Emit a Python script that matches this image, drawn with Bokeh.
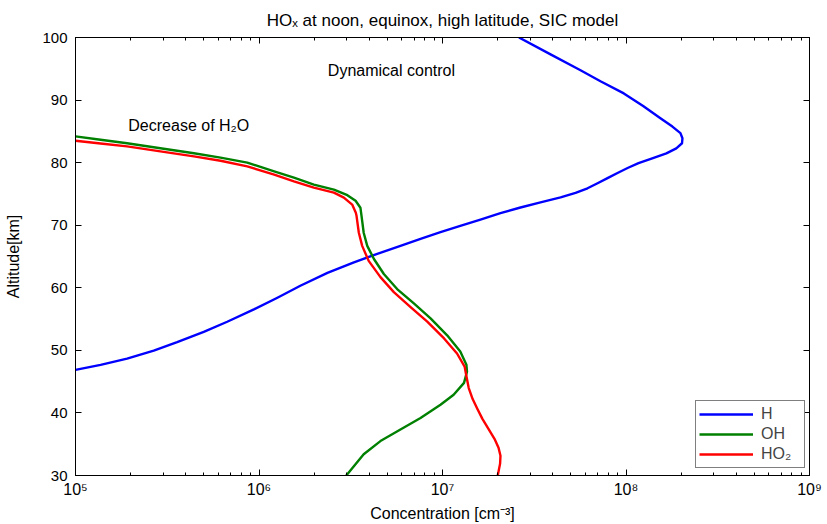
from bokeh.plotting import figure
from bokeh.models import (LogAxis, LinearAxis, FixedTicker, CustomJSTickFormatter,
                          Label, Legend, LegendItem)
from bokeh.embed import file_html
from bokeh.resources import INLINE

# ---- data ----
h_alt = [100.0, 97.3, 94.76, 93.0, 91.06, 89.05, 87.10, 85.76, 84.71, 83.89, 83.10, 82.29,
         81.49, 80.70, 79.92, 79.14, 78.35, 77.52, 76.70, 75.90, 75.16, 74.44, 73.65, 72.83,
         71.92, 70.90, 69.90, 68.89, 67.81, 66.71, 65.43, 64.06, 62.38, 60.32, 58.41, 56.54,
         54.57, 52.95, 51.30, 49.97, 48.68, 47.68, 46.87]
h_conc = [2.61e7, 3.88e7, 5.65e7, 7.26e7, 9.73e7, 1.24e8, 1.54e8, 1.79e8, 1.98e8, 2.03e8,
          2.02e8, 1.88e8, 1.66e8, 1.39e8, 1.17e8, 1.02e8, 8.99e7, 7.93e7, 7.00e7, 6.17e7,
          5.31e7, 4.40e7, 3.42e7, 2.66e7, 2.07e7, 1.61e7, 1.25e7, 9.75e6, 7.59e6, 5.90e6,
          4.41e6, 3.29e6, 2.36e6, 1.68e6, 1.26e6, 9.38e5, 6.71e5, 5.00e5, 3.58e5, 2.67e5,
          1.91e5, 1.37e5, 1.0e5]

oh_alt = [84.2, 83.65, 83.1, 82.3, 81.5, 80.8, 80.0, 78.6, 77.6, 76.5, 75.7, 74.8, 73.9,
          72.8, 71.5, 68.8, 66.7, 64.6, 62.2, 59.8, 57.5, 55.1, 52.4, 49.8, 47.7, 46.6,
          44.8, 42.9, 41.3, 39.2, 37.35, 35.5, 33.4, 30.0]
oh_conc = [1.0e5, 1.37e5, 1.91e5, 2.90e5, 4.42e5, 6.17e5, 8.63e5, 1.21e6, 1.55e6, 1.99e6,
           2.56e6, 3.03e6, 3.36e6, 3.57e6, 3.62e6, 3.72e6, 3.89e6, 4.23e6, 4.79e6, 5.66e6,
           6.98e6, 8.61e6, 1.06e7, 1.25e7, 1.35e7, 1.36e7, 1.31e7, 1.15e7, 9.75e6, 7.59e6,
           5.90e6, 4.59e6, 3.72e6, 2.99e6]

ho2_alt = [83.5, 83.07, 82.6, 81.8, 81.0, 80.3, 79.4, 78.1, 77.0, 76.0, 75.2, 74.4, 73.3,
           72.0, 71.5, 68.8, 66.7, 64.3, 61.7, 59.3, 56.9, 54.6, 51.9, 49.5, 47.41, 45.87,
           43.97, 42.22, 40.63, 39.05, 37.46, 35.87, 34.44, 33.17, 31.90, 30.0]
ho2_conc = [1.0e5, 1.37e5, 1.91e5, 2.90e5, 4.42e5, 6.17e5, 8.63e5, 1.21e6, 1.55e6, 1.99e6,
            2.56e6, 2.90e6, 3.22e6, 3.37e6, 3.40e6, 3.50e6, 3.65e6, 3.96e6, 4.59e6, 5.43e6,
            6.70e6, 8.26e6, 1.02e7, 1.20e7, 1.32e7, 1.35e7, 1.39e7, 1.46e7, 1.55e7, 1.65e7,
            1.78e7, 1.92e7, 2.02e7, 2.07e7, 2.06e7, 2.00e7]

x_major = [1e5, 1e6, 1e7, 1e8, 1e9]
y_major = [30, 40, 50, 60, 70, 80, 90, 100]
series_names = ["H", "OH", "HO\u2082"]
series_colors = ["#0000ff", "#008000", "#ff0000"]

FONT = "Liberation Sans"

x_minor = [m * d for d in x_major[:-1] for m in range(2, 10)]

p = figure(width=827, height=524, x_axis_type="log", x_range=(1e5, 1e9), y_range=(30, 100),
           output_backend="svg", toolbar_location=None,
           min_border_left=75, min_border_right=18, min_border_top=37, min_border_bottom=46)
p.grid.visible = False
p.outline_line_color = "black"
p.outline_line_width = 1
p.background_fill_color = "white"
p.border_fill_color = "white"

p.title.text = "HO\u2093 at noon, equinox, high latitude, SIC model"
p.title.align = "center"
p.title.vertical_align = "middle"
p.title.text_font = FONT
p.title.text_font_size = "17px"
p.title.text_font_style = "normal"
p.title.text_color = "black"
p.title.standoff = 13

sup_code = """
const sup = {'0':'\u2070','1':'\u00b9','2':'\u00b2','3':'\u00b3','4':'\u2074','5':'\u2075',
             '6':'\u2076','7':'\u2077','8':'\u2078','9':'\u2079','-':'\u207b'};
const e = Math.round(Math.log10(tick));
return '10' + String(e).split('').map(c => sup[c]).join('');
"""

def style_axis(ax):
    ax.axis_line_color = "black"
    ax.major_tick_in = 6
    ax.major_tick_out = 0
    ax.minor_tick_in = 3
    ax.minor_tick_out = 0
    ax.major_tick_line_color = "black"
    ax.minor_tick_line_color = "black"
    ax.major_label_text_font = FONT
    ax.major_label_text_font_size = "15px"
    ax.major_label_text_color = "black"
    ax.axis_label_text_font = FONT
    ax.axis_label_text_font_size = "16px"
    ax.axis_label_text_font_style = "normal"
    ax.axis_label_text_color = "black"

xb = p.xaxis[0]
xb.ticker = FixedTicker(ticks=x_major, minor_ticks=x_minor)
xb.formatter = CustomJSTickFormatter(code=sup_code)
style_axis(xb)
xb.major_label_text_font_size = "16px"
xb.major_label_standoff = 5
xb.axis_label = "Concentration [cm\u207b\u00b3]"
xb.axis_label_standoff = 4

yl = p.yaxis[0]
yl.ticker = FixedTicker(ticks=y_major, minor_ticks=[])
style_axis(yl)
yl.major_label_standoff = 8
yl.axis_label = "Altitude[km]"
yl.axis_label_standoff = 17

empty = CustomJSTickFormatter(code="return ''")
xt = LogAxis(ticker=FixedTicker(ticks=x_major, minor_ticks=x_minor), formatter=empty)
style_axis(xt)
xt.major_label_standoff = 0
xt.major_label_text_font_size = "0px"
p.add_layout(xt, "above")
yr = LinearAxis(ticker=FixedTicker(ticks=y_major, minor_ticks=[]), formatter=empty)
style_axis(yr)
yr.major_label_standoff = 0
yr.major_label_text_font_size = "0px"
p.add_layout(yr, "right")

renderers = []
for xs, ys, c in [(h_conc, h_alt, series_colors[0]),
                  (oh_conc, oh_alt, series_colors[1]),
                  (ho2_conc, ho2_alt, series_colors[2])]:
    r = p.line(xs, ys, line_color=c, line_width=2.4, line_join="round")
    renderers.append(r)

legend = Legend(items=[LegendItem(label=n, renderers=[r]) for n, r in zip(series_names, renderers)],
                location=(620, 7), padding=3, spacing=0, margin=0,
                glyph_width=54, glyph_height=20, label_height=20, label_width=40,
                label_standoff=8, border_line_color="black", border_line_width=1,
                background_fill_color="white", background_fill_alpha=1.0,
                label_text_font=FONT, label_text_font_size="16px")
p.add_layout(legend, "center")

p.add_layout(Label(x=5.27e6, y=94.8, text="Dynamical control", text_font=FONT,
                   text_font_size="16px", text_align="center", text_baseline="middle",
                   text_color="black"))
p.add_layout(Label(x=1.94e5, y=85.9, text="Decrease of H\u2082O", text_font=FONT,
                   text_font_size="16px", text_align="left", text_baseline="middle",
                   text_color="black"))

open("out.html", "w").write(file_html(p, INLINE))
